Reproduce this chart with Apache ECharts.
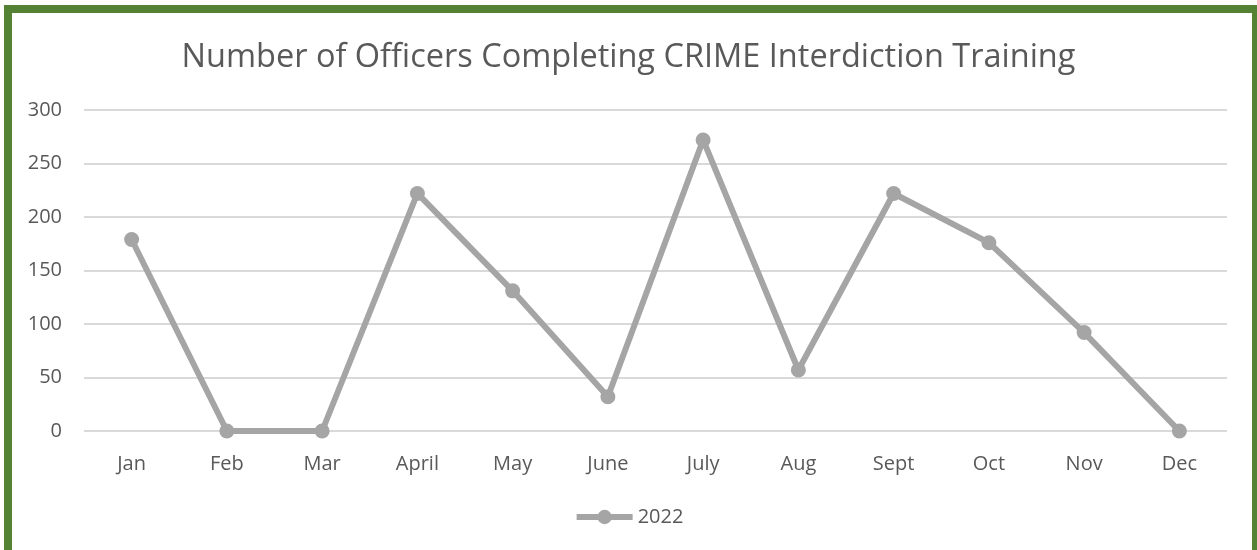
<!DOCTYPE html>
<html>
<head>
<meta charset="utf-8">
<script src="https://cdn.jsdelivr.net/npm/echarts@6/dist/echarts.min.js"></script>
<style>
  html, body { margin: 0; padding: 0; background: #fff; overflow: hidden; }
  #frame { position: absolute; left: 4px; top: 5px; width: 1256px; height: 600px; border: 8px solid #548235; box-sizing: border-box; }
  #chart { position: absolute; left: 0; top: 0; width: 1257px; height: 550px; }
</style>
</head>
<body>
<div id="frame"></div>
<div id="chart"></div>
<script>
const categories = ['Jan', 'Feb', 'Mar', 'April', 'May', 'June', 'July', 'Aug', 'Sept', 'Oct', 'Nov', 'Dec'];
const values2022 = [179, 0, 0, 222, 131, 32, 272, 57, 222, 176, 92, 0];
const seriesName = '2022';
const titleText = 'Number of Officers Completing CRIME Interdiction Training';

const chart = echarts.init(document.getElementById('chart'), null, { renderer: 'canvas' });
const font = '"Open Sans", "Noto Sans", sans-serif';
chart.setOption({
  animation: false,
  backgroundColor: 'transparent',
  title: {
    text: titleText,
    left: 'center',
    top: 36,
    textStyle: { fontFamily: font, fontSize: 32.5, fontWeight: 'normal', color: '#595959' }
  },
  legend: {
    data: [seriesName],
    bottom: 18,
    left: 'center',
    itemWidth: 56,
    itemHeight: 18,
    itemGap: 10,
    lineStyle: { width: 6 },
    textStyle: { fontFamily: font, fontSize: 20, color: '#595959' }
  },
  grid: { left: 84, right: 30, top: 110, bottom: 119, containLabel: false },
  xAxis: {
    type: 'category',
    data: categories,
    boundaryGap: true,
    axisLine: { show: false },
    axisTick: { show: false },
    axisLabel: { fontFamily: font, fontSize: 20, color: '#595959', margin: 23 }
  },
  yAxis: {
    type: 'value',
    min: 0, max: 300, interval: 50,
    axisLine: { show: false },
    axisTick: { show: false },
    splitLine: { lineStyle: { color: '#d9d9d9', width: 2 } },
    axisLabel: { fontFamily: font, fontSize: 20, color: '#595959', margin: 22 }
  },
  series: [{
    name: seriesName,
    type: 'line',
    data: values2022,
    symbol: 'circle',
    symbolSize: 15,
    itemStyle: { color: '#a5a5a5' },
    lineStyle: { color: '#a5a5a5', width: 6 }
  }]
});
</script>
</body>
</html>
